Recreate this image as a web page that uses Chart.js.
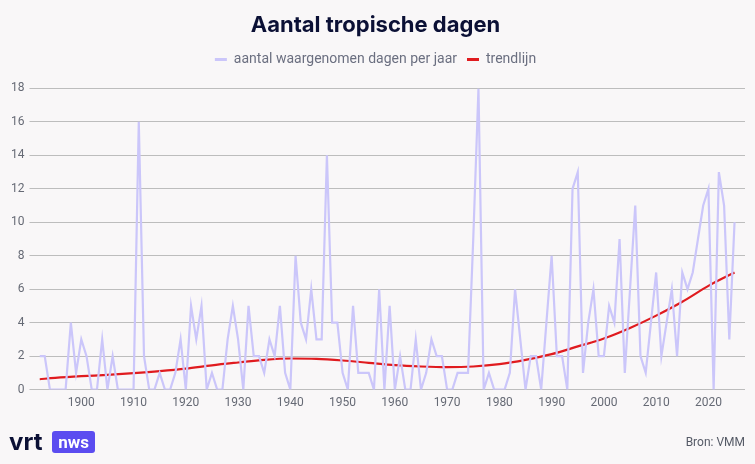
<!DOCTYPE html>
<html>
<head>
<meta charset="utf-8">
<script src="https://cdn.jsdelivr.net/npm/chart.js@4.4.1/dist/chart.umd.min.js"></script>
<style>
  html, body { margin: 0; padding: 0; background: #f9f7f8; }
  #wrap { width: 755px; height: 464px; position: relative; }
</style>
</head>
<body>
<div id="wrap"><canvas id="chart"></canvas></div>
<script>
// jaren en waargenomen tropische dagen (Ukkel)
const years = [
  1892, 1893, 1894, 1895, 1896, 1897, 1898, 1899, 1900, 1901,
  1902, 1903, 1904, 1905, 1906, 1907, 1908, 1909, 1910, 1911,
  1912, 1913, 1914, 1915, 1916, 1917, 1918, 1919, 1920, 1921,
  1922, 1923, 1924, 1925, 1926, 1927, 1928, 1929, 1930, 1931,
  1932, 1933, 1934, 1935, 1936, 1937, 1938, 1939, 1940, 1941,
  1942, 1943, 1944, 1945, 1946, 1947, 1948, 1949, 1950, 1951,
  1952, 1953, 1954, 1955, 1956, 1957, 1958, 1959, 1960, 1961,
  1962, 1963, 1964, 1965, 1966, 1967, 1968, 1969, 1970, 1971,
  1972, 1973, 1974, 1975, 1976, 1977, 1978, 1979, 1980, 1981,
  1982, 1983, 1984, 1985, 1986, 1987, 1988, 1989, 1990, 1991,
  1992, 1993, 1994, 1995, 1996, 1997, 1998, 1999, 2000, 2001,
  2002, 2003, 2004, 2005, 2006, 2007, 2008, 2009, 2010, 2011,
  2012, 2013, 2014, 2015, 2016, 2017, 2018, 2019, 2020, 2021,
  2022, 2023, 2024, 2025
];
const observed = [
  2, 2, 0, 0, 0, 0, 4, 1, 3, 2,
  0, 0, 3, 0, 2, 0, 0, 0, 0, 16,
  2, 0, 0, 1, 0, 0, 1, 3, 0, 5,
  3, 5, 0, 1, 0, 0, 3, 5, 3, 0,
  5, 2, 2, 1, 3, 2, 5, 1, 0, 8,
  4, 3, 6, 3, 3, 14, 4, 4, 1, 0,
  5, 1, 1, 1, 0, 6, 0, 5, 0, 2,
  0, 0, 3, 0, 1, 3, 2, 2, 0, 0,
  1, 1, 1, 9, 18, 0, 1, 0, 0, 0,
  1, 6, 3, 0, 2, 2, 0, 4, 8, 2,
  2, 0, 12, 13, 1, 4, 6, 2, 2, 5,
  4, 9, 1, 6, 11, 2, 1, 4, 7, 2,
  4, 6, 2, 7, 6, 7, 9, 11, 12, 0,
  13, 11, 3, 10
];
const trendYears = [1892, 1895, 1900, 1905, 1910, 1915, 1920, 1925, 1930, 1935,
  1940, 1945, 1950, 1955, 1960, 1965, 1970, 1975, 1980, 1985,
  1990, 1995, 2000, 2005, 2010, 2015, 2020, 2025];
const trend = [0.62, 0.7, 0.8, 0.88, 0.98, 1.1, 1.25, 1.45, 1.62, 1.78,
  1.86, 1.84, 1.74, 1.6, 1.46, 1.38, 1.34, 1.38, 1.52, 1.78,
  2.12, 2.58, 3.05, 3.68, 4.42, 5.25, 6.2, 7.0];
const decades = [1900, 1910, 1920, 1930, 1940, 1950, 1960, 1970, 1980, 1990, 2000, 2010, 2020];

// wat extra ruimte onder de legende
const legendSpacer = {
  id: 'legendSpacer',
  beforeInit(chart) {
    const fit = chart.legend.fit;
    chart.legend.fit = function () {
      fit.bind(chart.legend)();
      this.height += 12;
    };
  }
};

// logo en bron onderaan
const footer = {
  id: 'footer',
  afterDraw(chart) {
    const ctx = chart.ctx;
    ctx.save();
    ctx.fillStyle = '#0b1035';
    ctx.font = 'bold 24px Inter, "DejaVu Sans", sans-serif';
    ctx.textBaseline = 'alphabetic';
    ctx.textAlign = 'left';
    ctx.fillText('vrt', 9, 450);
    ctx.fillStyle = '#5b4cf0';
    ctx.beginPath();
    ctx.roundRect(52, 431, 43, 22, 3);
    ctx.fill();
    ctx.fillStyle = '#ffffff';
    ctx.font = 'bold 17px Roboto, sans-serif';
    ctx.textAlign = 'center';
    ctx.fillText('nws', 73.5, 448);
    ctx.fillStyle = '#555a66';
    ctx.font = '12px Roboto, sans-serif';
    ctx.textAlign = 'right';
    ctx.fillText('Bron: VMM', 745, 446);
    ctx.restore();
  }
};

new Chart(document.getElementById('chart'), {
  type: 'line',
  data: {
    datasets: [{
      label: 'aantal waargenomen dagen per jaar',
      data: years.map((y, i) => ({ x: y, y: observed[i] })),
      borderColor: '#cbc6fa',
      backgroundColor: '#cbc6fa',
      borderWidth: 2.2,
      pointRadius: 0,
      tension: 0
    }, {
      label: 'trendlijn',
      data: trendYears.map((y, i) => ({ x: y, y: trend[i] })),
      borderColor: '#e01b1f',
      backgroundColor: '#e01b1f',
      borderWidth: 2.2,
      pointRadius: 0,
      cubicInterpolationMode: 'monotone'
    }]
  },
  options: {
    responsive: true,
    maintainAspectRatio: false,
    animation: false,
    layout: { padding: { left: 6, right: 10, top: 4, bottom: 48 } },
    plugins: {
      title: {
        display: true,
        text: 'Aantal tropische dagen',
        color: '#0b1035',
        font: { family: 'Inter, sans-serif', size: 22, weight: 'bold' },
        padding: { top: 8, bottom: 4 }
      },
      legend: {
        labels: {
          boxWidth: 12,
          boxHeight: 3,
          padding: 10,
          color: '#6b6f80',
          font: { family: 'Roboto, sans-serif', size: 14 },
          generateLabels: chart => Chart.defaults.plugins.legend.labels.generateLabels(chart)
            .map(l => ({ ...l, lineWidth: 0 }))
        }
      },
      tooltip: { enabled: false }
    },
    scales: {
      x: {
        type: 'linear',
        min: 1892,
        max: 2027,
        afterBuildTicks: s => { s.ticks = decades.map(v => ({ value: v })); },
        grid: { display: false, drawTicks: false },
        border: { display: false },
        ticks: {
          color: '#666a75',
          font: { family: 'Roboto, sans-serif', size: 12 },
          padding: 6,
          maxRotation: 0,
          callback: v => String(v)
        }
      },
      y: {
        min: 0,
        max: 18,
        grid: { color: '#bdbdbd', tickLength: 10, tickColor: '#bdbdbd' },
        border: { display: false },
        ticks: {
          stepSize: 2,
          color: '#666a75',
          font: { family: 'Roboto, sans-serif', size: 12 },
          padding: 5
        }
      }
    }
  },
  plugins: [legendSpacer, footer]
});
</script>
</body>
</html>
